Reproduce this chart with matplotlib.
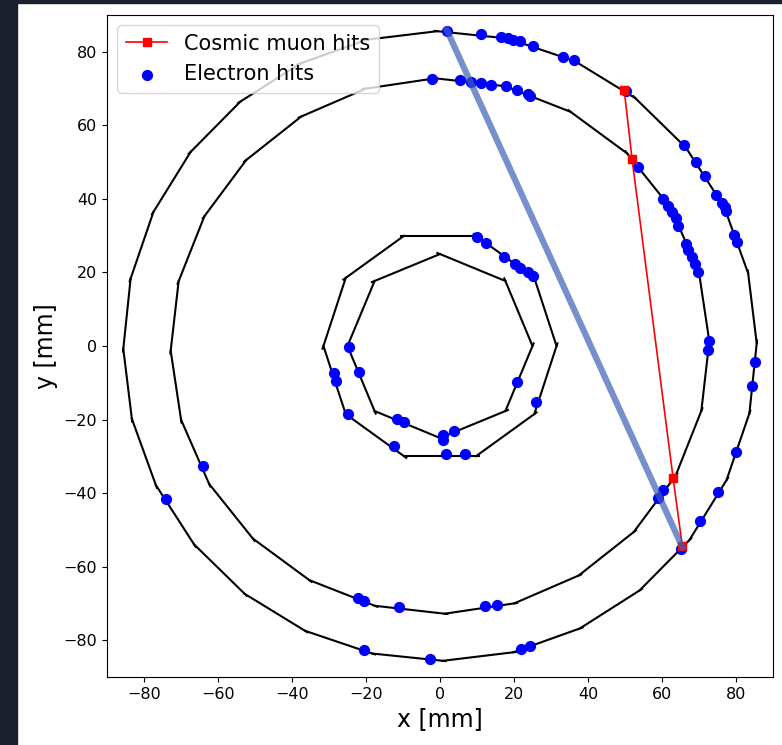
import numpy as np
import matplotlib
matplotlib.use('Agg')
import matplotlib.pyplot as plt
from matplotlib.patches import Rectangle

# detector layers (radius in mm, number of staves, rotation in degrees)
layer_radius = [25.0, 31.5, 72.8, 85.6]
layer_staves = [8, 10, 24, 28]
layer_phase = [0.0, 0.0, 1.0, 0.5]

# electron hits [mm]
electron_x = [1.8, 11.1, 16.5, 18.3, 19.8, 21.6, 25.0, 33.3, 36.3, 50.3,
              66.0, 69.1, 71.6, 74.7, 76.3, 77.0, 77.2, 79.5, 80.2, 85.1,
              84.2, 79.9, 75.2, 70.3, 65.2,
              -74.1, -20.6, -2.8, 21.9, 24.2,
              -2.2, 5.5, 8.4, 11.1, 13.8, 17.9, 20.7, 23.7, 24.3,
              53.6, 60.4, 61.7, 62.8, 63.7, 64.4, 66.4, 67.1, 68.1, 68.9,
              69.8, 72.7, 72.5, 60.4, 58.8,
              -64.1, -22.2, -20.6, -11.1, 12.2, 15.4,
              10.0, 12.5, 17.2, 20.4, 21.6, 23.7, 25.0, 26.0, 6.8, 1.7,
              -12.3, -25.0, -28.0, -28.7,
              -24.6, -22.0, -11.5, -9.8, 0.9, 0.9, 3.8, 20.7]
electron_y = [85.6, 84.7, 84.0, 83.7, 83.3, 82.8, 81.7, 78.7, 77.8, 69.2,
              54.7, 50.0, 46.2, 41.1, 38.9, 37.7, 36.7, 30.2, 28.4, -4.4,
              -10.8, -28.8, -39.8, -47.7, -55.2,
              -41.6, -82.6, -85.0, -82.3, -81.5,
              72.7, 72.2, 71.7, 71.6, 71.1, 70.6, 69.7, 68.6, 67.9,
              48.8, 40.0, 38.0, 36.4, 34.7, 32.7, 27.6, 26.1, 24.1, 22.3,
              20.1, 1.4, -1.0, -39.2, -41.4,
              -32.7, -68.6, -69.3, -70.9, -70.8, -70.4,
              29.6, 27.9, 24.3, 22.3, 21.1, 20.0, 19.1, -15.3, -29.4, -29.4,
              -27.3, -18.5, -9.4, -7.4,
              -0.4, -7.0, -19.9, -20.8, -24.2, -25.5, -23.0, -9.7]

# cosmic muon hits [mm]
muon_x = [49.8, 51.9, 63.0, 65.5]
muon_y = [69.5, 50.9, -35.9, -54.5]

# fitted track end points
track_x = [1.8, 65.5]
track_y = [86.0, -54.7]

fig = plt.figure(figsize=(7.82, 7.45), dpi=100)
# dark screenshot border
fig.patches.append(Rectangle((0, 0), 17 / 782, 1, transform=fig.transFigure,
                             color='#1b202c', zorder=-10))
fig.patches.append(Rectangle((0, 1 - 3 / 745), 1, 3 / 745, transform=fig.transFigure,
                             color='#1b202c', zorder=-10))
ax = fig.add_axes([107 / 782, 1 - 677 / 745, 666 / 782, 662 / 745])

for r, n, ph in zip(layer_radius, layer_staves, layer_phase):
    ang = np.radians(ph + 360.0 * np.arange(n + 1) / n)
    vx = r * np.cos(ang)
    vy = r * np.sin(ang)
    for k in range(n):
        x0, y0, x1, y1 = vx[k], vy[k], vx[k + 1], vy[k + 1]
        # small overshoot so each stave overlaps the next one
        dx, dy = x1 - x0, y1 - y0
        ax.plot([x0, x1 + 0.04 * dx], [y0, y1 + 0.04 * dy], color='black', lw=1.5)

ax.plot(muon_x, muon_y, 'rs-', lw=1.2, markersize=6, label='Cosmic muon hits', zorder=4)
ax.scatter(electron_x, electron_y, color='blue', s=50, label='Electron hits', zorder=3)
ax.plot(track_x, track_y, color='#3e60b6', alpha=0.7, lw=4.5, zorder=5)

ax.set_xlim(-90, 90)
ax.set_ylim(-90, 90)
ax.set_xticks(np.arange(-80, 81, 20))
ax.set_yticks(np.arange(-80, 81, 20))
ax.tick_params(labelsize=11.5)
ax.set_xlabel('x [mm]', fontsize=17)
ax.set_ylabel('y [mm]', fontsize=17)
ax.legend(loc='upper left', fontsize=15, borderaxespad=0.5)

fig.savefig('out.png', dpi=100)
